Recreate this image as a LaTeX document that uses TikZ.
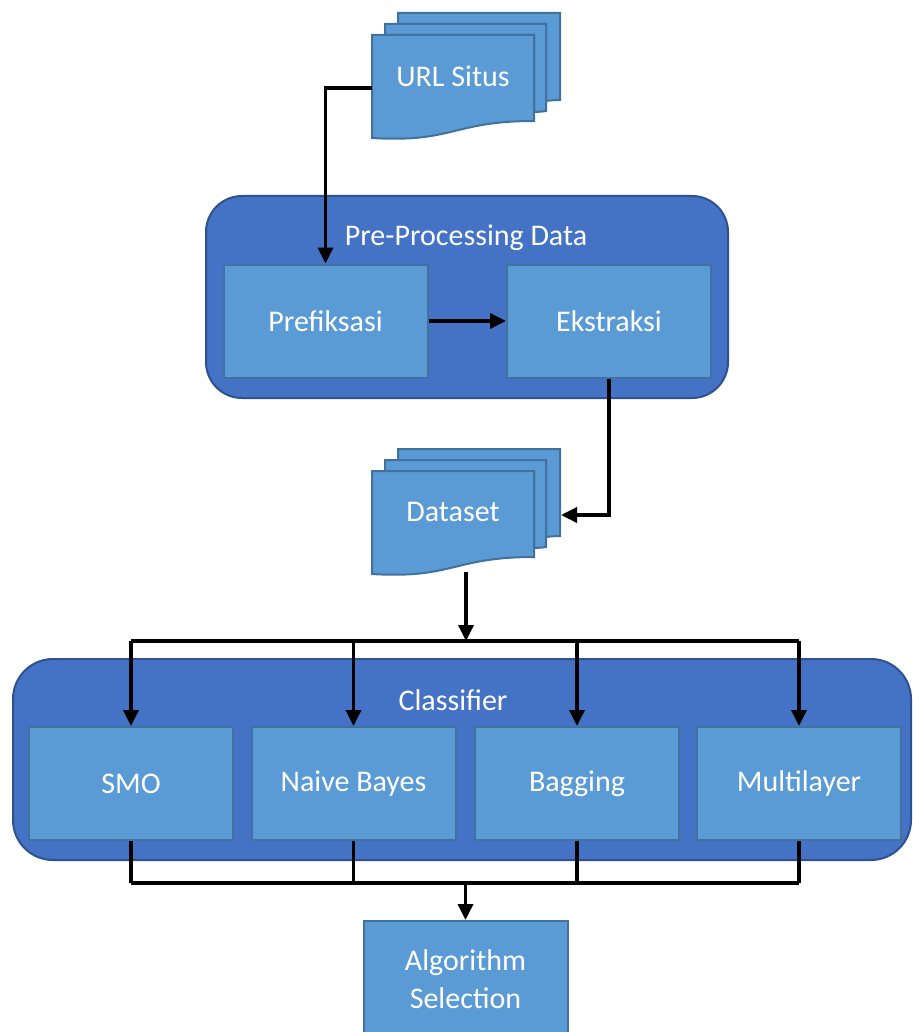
\documentclass[tikz,border=0pt]{standalone}
\usepackage{fontspec}
\setmainfont{Carlito}
\usetikzlibrary{arrows.meta}
\definecolor{contfill}{HTML}{4472C4}
\definecolor{contdraw}{HTML}{2F528F}
\definecolor{boxfill}{HTML}{5B9BD5}
\definecolor{boxdraw}{HTML}{41719C}
\tikzset{
  cont/.style={draw=contdraw, fill=contfill, line width=2pt, rounded corners=36pt},
  proc/.style={draw=boxdraw, fill=boxfill, line width=2pt, minimum width=204pt, minimum height=113pt, text=white, font=\fontsize{30}{38}\selectfont, inner sep=0pt, align=center},
  docshape/.style={draw=boxdraw, fill=boxfill, line width=2pt, line join=miter},
  lbl/.style={text=white, font=\fontsize{30}{38}\selectfont, inner sep=0pt},
  conn/.style={line width=3.5pt, -{Triangle[length=16pt,width=15pt]}},
  wire/.style={line width=3.5pt},
}
\newcommand{\multidocshape}[2]{%
  \begin{scope}[shift={(#1,#2)}]
    \path[docshape] (26,11) -- (26,0) -- (188,0) -- (188,87) .. controls (181,87) and (174,88) .. (174,88) -- (174,11) -- cycle;
    \path[docshape] (13,22) -- (13,11) -- (174,11) -- (174,98) .. controls (168,99) and (162,99) .. (162,99) -- (162,22) -- cycle;
    \path[docshape] (0,22) -- (162,22) -- (162,108) .. controls (81,108) and (81,130) .. (0,125) -- cycle;
  \end{scope}}
\begin{document}
\begin{tikzpicture}[x=1pt,y=-1pt]
  \useasboundingbox (0,0) rectangle (912,1032);
  \clip (0,0) rectangle (912,1032);
  % URL Situs
  \multidocshape{372}{13}
  \node[lbl] (url) at (453,76) {URL Situs};
  \coordinate (urlL) at (372,88);
  % Pre-processing container
  \path[cont] (206,196) rectangle (728,398);
  \node[lbl] (pretitle) at (466,238) {Pre-Processing Data};
  \node[proc] (pref) at (325.5,321) {Prefiksasi};
  \node[proc] (ekst) at (609,321) {Ekstraksi};
  % Dataset
  \multidocshape{372}{449}
  \node[lbl] (ds) at (453,512) {Dataset};
  \coordinate (dsR) at (561,515);
  \coordinate (dsB) at (466,572);
  \coordinate (split) at (466,641);
  % Classifier container
  \path[cont, rounded corners=40pt] (13,659) rectangle (911,860);
  \node[lbl] (clstitle) at (453,700) {Classifier};
  \node[proc] (smo) at (131,783.5) {SMO};
  \node[proc] (nb) at (353.5,783.5) {Naive Bayes};
  \node[proc] (bag) at (577,783.5) {Bagging};
  \node[proc] (mlp) at (799,783.5) {Multilayer};
  \node[proc, minimum height=116pt] (alg) at (465.5,979) {Algorithm\\Selection};
  \coordinate (join) at (alg.north |- 0,883);
  % connectors
  \draw[conn] (urlL) -- (urlL -| pref.north) -- (pref.north);
  \draw[conn] (pref.east) -- (ekst.west);
  \draw[conn] (ekst.south) |- (dsR);
  \draw[conn] (dsB) -- (split);
  \draw[wire] (smo.north |- split) -- (mlp.north |- split);
  \foreach \n in {smo,nb,bag,mlp} {
    \draw[conn] (\n.north |- split) -- (\n.north);
    \draw[wire] (\n.south) -- (\n.south |- join);
  }
  \draw[wire] (smo.south |- join) -- (mlp.south |- join);
  \draw[conn] (join) -- (alg.north);
\end{tikzpicture}
\end{document}
